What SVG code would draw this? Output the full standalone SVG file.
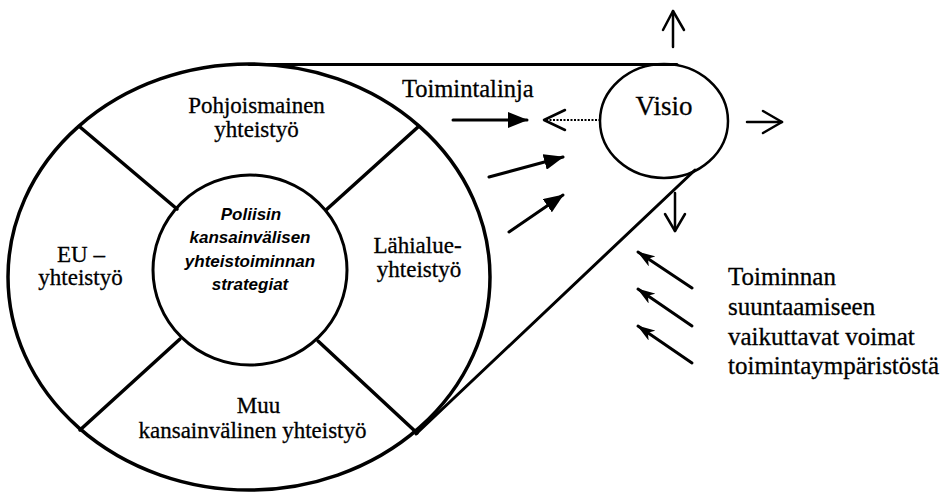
<svg xmlns="http://www.w3.org/2000/svg" width="949" height="492" viewBox="0 0 949 492">
  <defs>
    <style>
      .ln { fill: none; stroke: #000; stroke-linecap: round; }
      .serif { font-family: "Liberation Serif", "Times New Roman", serif; fill: #000; stroke: #000; stroke-width: 0.3; }
      .lbl { font-size: 23px; text-anchor: middle; }
      .ital { font-family: "Liberation Sans", Arial, sans-serif; font-style: italic; font-weight: bold; font-size: 17px; text-anchor: middle; fill: #000; }
      .open { fill: none; stroke: #000; stroke-width: 2.5; stroke-linecap: round; stroke-linejoin: round; }
    </style>
    <marker id="solid" viewBox="0 0 20 16" refX="19" refY="8" markerWidth="20" markerHeight="16" markerUnits="userSpaceOnUse" orient="auto">
      <path d="M0,0 L20,8 L0,16 Z" fill="#000"/>
    </marker>
    <marker id="barb" viewBox="0 0 18 12" refX="17" refY="6" markerWidth="18" markerHeight="12" markerUnits="userSpaceOnUse" orient="auto">
      <path d="M0,0 L18,6 L0,12 L5,6 Z" fill="#000"/>
    </marker>
  </defs>
  <rect width="949" height="492" fill="#fff"/>

  <g id="ring">
    <ellipse cx="249" cy="277" rx="241" ry="213" class="ln" stroke-width="3.5"/>
    <line x1="80" y1="127" x2="177" y2="209" class="ln" stroke-width="3.5"/>
    <line x1="418" y1="127" x2="326" y2="210" class="ln" stroke-width="3.5"/>
    <line x1="80" y1="430" x2="180" y2="339" class="ln" stroke-width="3.5"/>
    <line x1="417" y1="433" x2="318" y2="341" class="ln" stroke-width="3.5"/>
  </g>

  <g id="seg-pohjoismainen">
    <text class="serif lbl" x="256.5" y="113">Pohjoismainen</text>
    <text class="serif lbl" x="256.5" y="137">yhteistyö</text>
  </g>
  <g id="seg-eu">
    <text class="serif lbl" x="81" y="262">EU –</text>
    <text class="serif lbl" x="80.5" y="285">yhteistyö</text>
  </g>
  <g id="seg-lahialue">
    <text class="serif lbl" x="417.5" y="253">Lähialue-</text>
    <text class="serif lbl" x="419" y="277">yhteistyö</text>
  </g>
  <g id="seg-muu">
    <text class="serif lbl" x="258.5" y="413">Muu</text>
    <text class="serif lbl" x="252.5" y="438">kansainvälinen yhteistyö</text>
  </g>

  <g id="strategiat">
    <ellipse cx="250" cy="270" rx="97" ry="95" class="ln" stroke-width="3"/>
    <text class="ital" x="251" y="220">Poliisin</text>
    <text class="ital" x="250" y="243">kansainvälisen</text>
    <text class="ital" x="250" y="267">yhteistoiminnan</text>
    <text class="ital" x="250" y="290">strategiat</text>
  </g>

  <g id="visio">
    <ellipse cx="664" cy="121" rx="64" ry="57" class="ln" stroke-width="2.5"/>
    <text class="serif" x="664" y="115" font-size="27" text-anchor="middle">Visio</text>
  </g>

  <g id="toimintalinja">
    <text class="serif" x="402" y="97" font-size="24.5">Toimintalinja</text>
  </g>

  <g id="voimat">
    <text class="serif" x="728" y="285" font-size="25">Toiminnan</text>
    <text class="serif" x="728" y="315" font-size="25">suuntaamiseen</text>
    <text class="serif" x="728" y="345" font-size="25">vaikuttavat voimat</text>
    <text class="serif" x="728" y="374" font-size="25">toimintaympäristöstä</text>
  </g>

  <g id="connectors">
    <!-- tangent lines -->
    <line x1="249" y1="64.5" x2="677" y2="64.5" class="ln" stroke-width="3"/>
    <line x1="416" y1="434" x2="695" y2="170" class="ln" stroke-width="3"/>
    <!-- dotted line from Visio -->
    <line x1="546" y1="120" x2="600" y2="120" stroke="#000" stroke-width="2" stroke-dasharray="2 1.5"/>
    <polyline points="565,110 544,120 565,130" class="open"/>
    <!-- solid arrows -->
    <line x1="453" y1="120" x2="527" y2="120" class="ln" stroke-width="3" marker-end="url(#solid)"/>
    <line x1="489" y1="177" x2="563" y2="157" class="ln" stroke-width="3" marker-end="url(#solid)"/>
    <line x1="509" y1="232" x2="563" y2="195" class="ln" stroke-width="3" marker-end="url(#solid)"/>
    <!-- open arrows from Visio -->
    <line x1="673" y1="47" x2="673" y2="11" class="open"/>
    <polyline points="663,30 673,11 684,30" class="open"/>
    <line x1="747" y1="122" x2="782" y2="122" class="open"/>
    <polyline points="763,111 782,122 763,133" class="open"/>
    <line x1="675" y1="193" x2="675" y2="231" class="open"/>
    <polyline points="665,214 675,231 685,214" class="open"/>
    <!-- environment forces -->
    <line x1="692" y1="288" x2="638" y2="252" class="ln" stroke-width="3" marker-end="url(#barb)"/>
    <line x1="692" y1="326" x2="638" y2="289" class="ln" stroke-width="3" marker-end="url(#barb)"/>
    <line x1="692" y1="363" x2="638" y2="326" class="ln" stroke-width="3" marker-end="url(#barb)"/>
  </g>
</svg>
